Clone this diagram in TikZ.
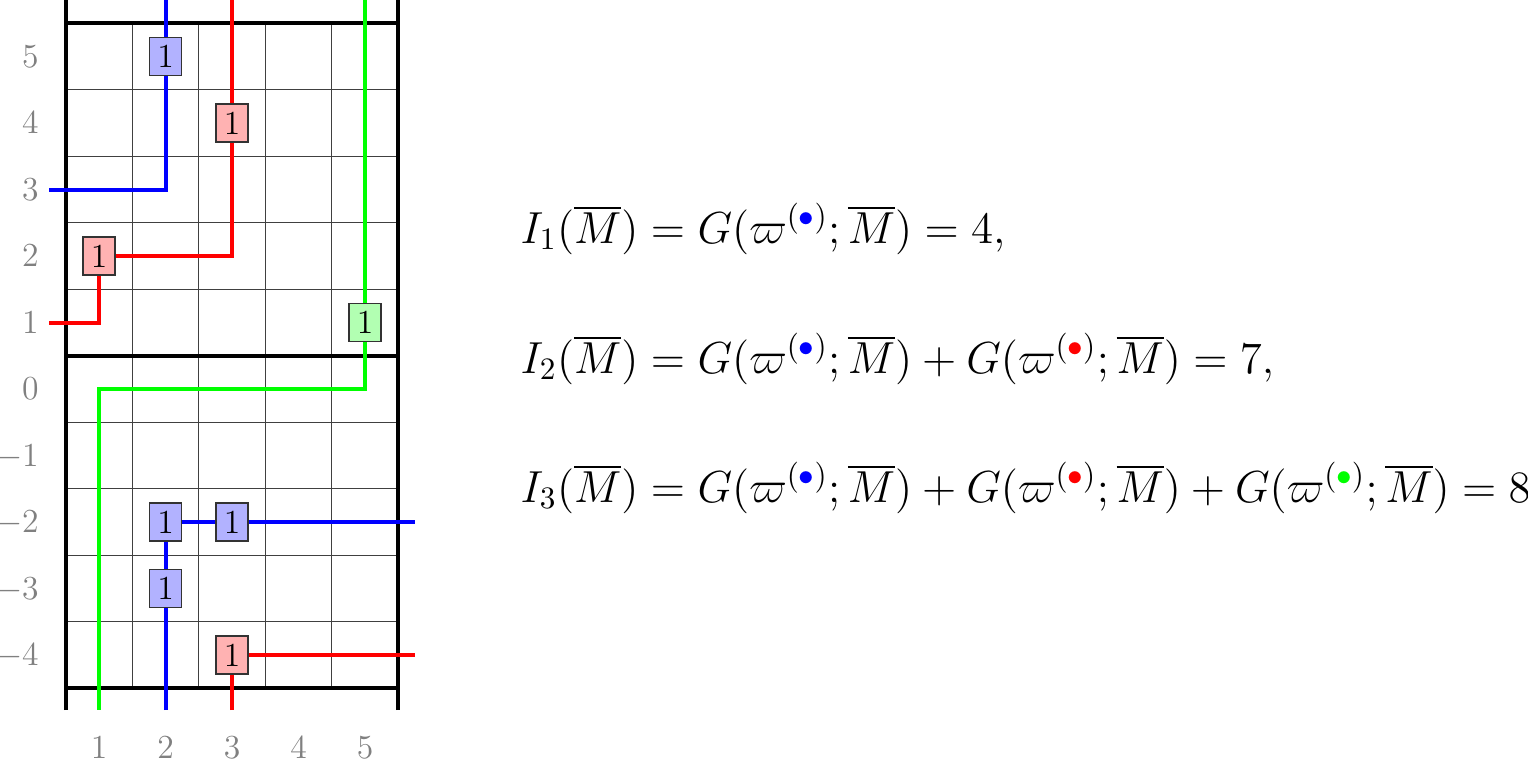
\documentclass[tikz,border=0pt]{standalone}
\begin{document}
\begin{tikzpicture}[font=\Large,
  thickln/.style={line width=1.7pt, black},
  gridln/.style={line width=0.5pt, black!75},
  wire/.style={line width=1.7pt},
  cell/.style={draw=black!80, line width=0.5pt, inner sep=0.3333em},
  lab/.style={text=black!50, inner sep=0pt},
  eqn/.style={anchor=base west, inner sep=0pt, scale=1.3333}]
\useasboundingbox (-0.489,-5.579) rectangle (22.489,5.85);
% grid
\foreach \x in {1.5,2.5,3.5,4.5} \draw[gridln] (\x,-4.5) -- (\x,5.5);
\foreach \y in {-3.5,...,4.5} \draw[gridln] (0.5,\y) -- (5.5,\y);
\foreach \y in {-4.5,0.5,5.5} \draw[thickln] (0.5,\y) -- (5.5,\y);
\foreach \x in {0.5,5.5} \draw[thickln] (\x,-4.83) -- (\x,5.85);
% coordinates
\coordinate (B1) at (2,5);
\coordinate (R1) at (3,4);
\coordinate (R2) at (1,2);
\coordinate (G1) at (5,1);
\coordinate (B2) at (2,-2);
\coordinate (B3) at (3,-2);
\coordinate (B4) at (2,-3);
\coordinate (R3) at (3,-4);
\coordinate (bs) at (0.25,3);
\coordinate (bk) at (2,3);
\coordinate (bt) at (2,5.85);
\coordinate (rt) at (3,5.85);
\coordinate (rk) at (3,2);
\coordinate (rk2) at (1,1);
\coordinate (rs) at (0.25,1);
\coordinate (gt) at (5,5.85);
\coordinate (gk) at (5,0);
\coordinate (gk2) at (1,0);
\coordinate (gb) at (1,-4.83);
\coordinate (bb) at (2,-4.83);
\coordinate (be) at (5.75,-2);
\coordinate (rb) at (3,-4.83);
\coordinate (re) at (5.75,-4);
% wires
\draw[wire, blue] (bs) -- (bk) -- (B1) -- (bt);
\draw[wire, red] (rt) -- (R1) -- (rk) -- (R2) -- (rk2) -- (rs);
\draw[wire, green] (gt) -- (G1) -- (gk) -- (gk2) -- (gb);
\draw[wire, blue] (bb) -- (B4) -- (B2) -- (B3) -- (be);
\draw[wire, red] (rb) -- (R3) -- (re);
% cells
\node[cell, fill=blue!30] (b1) at (B1) {1};
\node[cell, fill=red!30] (r1) at (R1) {1};
\node[cell, fill=red!30] (r2) at (R2) {1};
\node[cell, fill=green!30] (g1) at (G1) {1};
\node[cell, fill=blue!30] (b2) at (B2) {1};
\node[cell, fill=blue!30] (b3) at (B3) {1};
\node[cell, fill=blue!30] (b4) at (B4) {1};
\node[cell, fill=red!30] (r3) at (R3) {1};
% labels
\foreach \y in {-4,...,5} \node[lab, anchor=base east] (ly\y) at (0.1,\y-0.163) {$\y$};
\foreach \x in {1,...,5} \node[lab, anchor=base] (lx\x) at (\x,-5.563) {$\x$};
% equations
\node[eqn] (e1) at (7.33,2.195) {$I_1(\overline{M}) = G(\varpi^{(\textcolor{blue}{\bullet})};\overline{M}) = 4,$};
\node[eqn] (e2) at (7.33,0.24) {$I_2(\overline{M}) = G(\varpi^{(\textcolor{blue}{\bullet})};\overline{M}) + G(\varpi^{(\textcolor{red}{\bullet})};\overline{M}) = 7,$};
\node[eqn] (e3) at (7.33,-1.70) {$I_3(\overline{M}) = G(\varpi^{(\textcolor{blue}{\bullet})};\overline{M}) + G(\varpi^{(\textcolor{red}{\bullet})};\overline{M}) + G(\varpi^{(\textcolor{green}{\bullet})};\overline{M}) = 8$};
\end{tikzpicture}
\end{document}
